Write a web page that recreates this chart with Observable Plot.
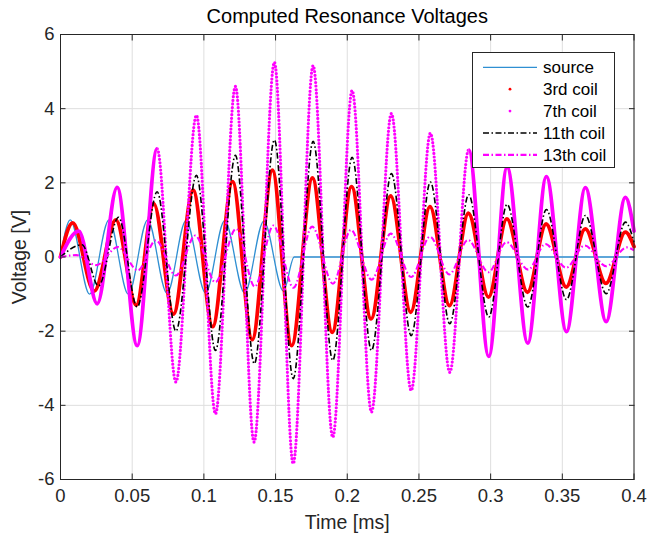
<!DOCTYPE html>
<html><head><meta charset="utf-8">
<script src="https://cdn.jsdelivr.net/npm/d3@7"></script>
<script src="https://cdn.jsdelivr.net/npm/@observablehq/plot@0.6"></script>
<style>
html,body{margin:0;padding:0;background:#fff;}
#wrap{position:relative;width:648px;height:539px;overflow:hidden;}
#legend{position:absolute;left:472px;top:52px;}
</style></head><body><div id="wrap"></div>
<script>
const title = "Computed Resonance Voltages";
const xLabel = "Time [ms]";
const yLabel = "Voltage [V]";
const xTicks = [0, 0.05, 0.1, 0.15, 0.2, 0.25, 0.3, 0.35, 0.4];
const yTicks = [-6, -4, -2, 0, 2, 4, 6];
const seriesNames = ["source", "3rd coil", "7th coil", "11th coil", "13th coil"];

// [time (ms), voltage (V)] at the extrema
const source = [[0,0],[0.0068,1],[0.0203,-1],[0.0338,1],[0.0473,-1],[0.0608,1],[0.0743,-0.98],[0.0875,0.98],[0.1012,-0.97],[0.1145,0.98],[0.1284,-0.97],[0.1418,0.97],[0.1555,-0.92],[0.163,0],[0.4,0]];
const coil3 = [[0,0],[0.0085,0.92],[0.0235,-0.92],[0.0386,1.0],[0.0528,-1.3],[0.065,1.44],[0.0788,-1.54],[0.0925,1.8],[0.1061,-1.88],[0.12,2.03],[0.1337,-2.23],[0.1478,2.34],[0.1612,-2.39],[0.1757,2.13],[0.1895,-2.03],[0.203,1.9],[0.2166,-1.67],[0.2303,1.65],[0.2442,-1.49],[0.2577,1.36],[0.2713,-1.31],[0.2845,1.18],[0.2985,-1.08],[0.3113,1.03],[0.3257,-0.95],[0.3387,0.89],[0.3527,-0.81],[0.366,0.76],[0.3804,-0.71],[0.394,0.67],[0.4,0.28]];
const coil7 = [[0,0],[0.0128,0.7],[0.0256,-1.26],[0.0395,1.88],[0.0535,-2.39],[0.0674,2.92],[0.0805,-3.37],[0.0948,3.82],[0.1081,-4.23],[0.122,4.6],[0.135,-4.99],[0.1492,5.25],[0.1623,-5.57],[0.1762,5.16],[0.1899,-4.86],[0.2034,4.49],[0.2169,-4.18],[0.2308,3.87],[0.2446,-3.6],[0.258,3.34],[0.2715,-3.11],[0.2847,2.89],[0.2987,-2.68],[0.3115,2.42],[0.3259,-2.32],[0.3389,2.17],[0.3529,-2.01],[0.3661,1.87],[0.3806,-1.74],[0.394,1.61],[0.4,0.7]];
const coil11 = [[0,0],[0.015,0.33],[0.0265,-0.78],[0.0405,1.07],[0.0535,-1.35],[0.0674,1.76],[0.0805,-2.0],[0.0948,2.2],[0.1081,-2.52],[0.122,2.74],[0.1352,-2.88],[0.1492,3.16],[0.1623,-3.28],[0.1762,3.12],[0.1899,-2.79],[0.2034,2.69],[0.2169,-2.52],[0.2308,2.25],[0.2446,-2.12],[0.258,2.02],[0.2715,-1.8],[0.2847,1.68],[0.2987,-1.62],[0.3115,1.42],[0.3259,-1.35],[0.3389,1.28],[0.3529,-1.15],[0.3661,1.12],[0.3806,-0.99],[0.394,0.94],[0.4,0.4]];
const coil13 = [[0,0],[0.011,0.05],[0.025,-0.22],[0.04,0.27],[0.054,-0.36],[0.0665,0.45],[0.0805,-0.5],[0.094,0.58],[0.108,-0.68],[0.1225,0.76],[0.1355,-0.8],[0.1485,0.85],[0.1625,-0.83],[0.1755,0.82],[0.19,-0.72],[0.2025,0.73],[0.217,-0.61],[0.2303,0.63],[0.2446,-0.54],[0.2577,0.55],[0.2712,-0.47],[0.2842,0.46],[0.2985,-0.41],[0.311,0.4],[0.3262,-0.34],[0.3382,0.35],[0.3527,-0.29],[0.3656,0.31],[0.3806,-0.25],[0.395,0.26],[0.4,0.18]];

const rows = arr => arr.map(([t, v]) => ({t, v}));
const font = "'Liberation Sans', Arial, Helvetica, sans-serif";
const ink = "#262626";

const styles = [
  {color: "#2f8fd2", width: 1.3},
  {color: "#ff0000", width: 3.8, dot: true},
  {color: "#ff00ff", width: 3.2, dot: true},
  {color: "#000000", width: 1.6, dash: "6 2.5 1.5 2.5"},
  {color: "#ff00ff", width: 2.1, dash: "6 2.5 1.5 2.5"}
];
const L = (data, s, extra = {}) => Plot.line(data, {x: "t", y: "v", curve: "monotone-x", stroke: s.color, strokeWidth: s.width, strokeLinecap: "round", strokeLinejoin: "round", ...extra});

// where the 7th-coil dots are sparse enough to show as separate dots (style only)
const dotsFrom = 0.0674, dotsUntil = 0.2847;

const chart = Plot.plot({
  width: 648, height: 539,
  marginLeft: 60, marginRight: 14.5, marginTop: 34, marginBottom: 60,
  style: {fontFamily: font, fontSize: "18.5px", color: ink, background: "#fff"},
  x: {domain: [0, 0.4]},
  y: {domain: [-6, 6]},
  marks: [
    Plot.gridX(xTicks, {stroke: "#dedede", strokeOpacity: 1, strokeWidth: 1}),
    Plot.gridY(yTicks, {stroke: "#dedede", strokeOpacity: 1, strokeWidth: 1}),
    L(rows(source), styles[0]),
    L(rows(coil3), styles[1]),
    L(rows(coil7), {...styles[2], width: 3.8}, {ariaDescription: "c7solid"}),
    L(rows(coil7), styles[2], {strokeDasharray: "0 3.6", ariaDescription: "c7dots"}),
    L(rows(coil11), styles[3], {strokeDasharray: styles[3].dash, strokeLinecap: "butt"}),
    L(rows(coil13), styles[4], {strokeDasharray: styles[4].dash, strokeLinecap: "butt"}),
    Plot.frame({stroke: ink, strokeWidth: 1}),
    Plot.axisX(xTicks, {anchor: "bottom", tickSize: -5.5, fill: "none", stroke: ink, label: null}),
    Plot.axisX(xTicks, {anchor: "top", tickSize: -5.5, fill: "none", stroke: ink, label: null}),
    Plot.axisY(yTicks, {anchor: "left", tickSize: -5.5, fill: "none", stroke: ink, label: null}),
    Plot.axisY(yTicks, {anchor: "right", tickSize: -5.5, fill: "none", stroke: ink, label: null}),
    Plot.axisX(xTicks, {anchor: "bottom", tickSize: 0, tickPadding: 9, tickFormat: d => String(d), label: null, fill: ink}),
    Plot.axisY(yTicks, {anchor: "left", tickSize: 0, tickPadding: 6, tickFormat: d => String(d), label: null, fill: ink}),
    Plot.text([xLabel], {text: d => d, frameAnchor: "bottom", lineAnchor: "middle", textAnchor: "middle", dy: 43, fontSize: 19.5, fill: ink}),
    Plot.text([yLabel], {text: d => d, frameAnchor: "left", lineAnchor: "middle", textAnchor: "middle", dx: -41, rotate: -90, fontSize: 19.5, fill: ink}),
    Plot.text([title], {text: d => d, frameAnchor: "top", lineAnchor: "middle", textAnchor: "middle", dy: -18, fontSize: 20, fill: "#000"})
  ]
});
const wrap = document.getElementById("wrap");
wrap.appendChild(chart);

// clip the two renderings of the 7th coil to their time ranges
(function () {
  const sx = chart.scale("x").apply;
  const svg = d3.select(chart.tagName.toLowerCase() === "svg" ? chart : chart.querySelector("svg"));
  const a = sx(dotsFrom), b = sx(dotsUntil);
  const defs = svg.insert("defs", ":first-child");
  const cs = defs.append("clipPath").attr("id", "c7-solid-clip");
  cs.append("rect").attr("x", 0).attr("y", 0).attr("width", a).attr("height", 539);
  cs.append("rect").attr("x", b).attr("y", 0).attr("width", 648 - b).attr("height", 539);
  defs.append("clipPath").attr("id", "c7-dots-clip")
    .append("rect").attr("x", a).attr("y", 0).attr("width", b - a).attr("height", 539);
  svg.selectAll("g[aria-description='c7solid']").attr("clip-path", "url(#c7-solid-clip)");
  svg.selectAll("g[aria-description='c7dots']").attr("clip-path", "url(#c7-dots-clip)");
})();

// legend box
const lw = 143, lh = 116, rowY0 = 15.3, rowStep = 21.9;
const leg = d3.select(wrap).append("svg").attr("id", "legend")
  .attr("width", lw).attr("height", lh)
  .style("font-family", font).style("font-size", "17px");
leg.append("rect").attr("x", 0.5).attr("y", 0.5).attr("width", lw - 1).attr("height", lh - 1)
  .attr("fill", "#fff").attr("stroke", ink).attr("stroke-width", 1);
seriesNames.forEach((name, i) => {
  const s = styles[i], y = rowY0 + i * rowStep;
  if (s.dot) {
    leg.append("circle").attr("cx", 38).attr("cy", y).attr("r", 1.4).attr("fill", s.color);
  } else {
    leg.append("line").attr("x1", 11).attr("x2", 65).attr("y1", y).attr("y2", y)
      .attr("stroke", s.color).attr("stroke-width", s.width)
      .attr("stroke-dasharray", s.dash || null);
  }
  leg.append("text").attr("x", 71).attr("y", y).attr("dy", "0.35em").attr("fill", "#000").text(name);
});
</script></body></html>
